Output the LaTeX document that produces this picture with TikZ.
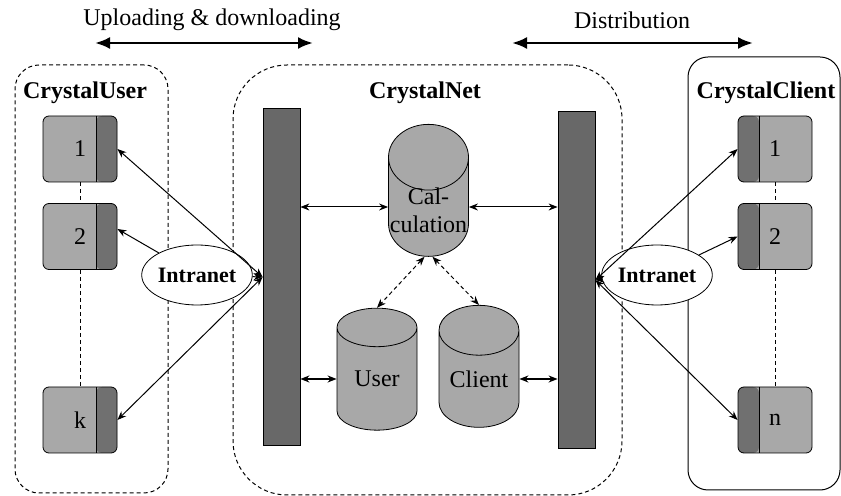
\documentclass[tikz,border=0pt]{standalone}
\usepackage{fontspec}
\setmainfont{Liberation Serif}
\usetikzlibrary{arrows.meta,positioning,shapes.geometric}
\definecolor{boxgray}{RGB}{168,168,168}
\definecolor{tabgray}{RGB}{112,112,112}
\definecolor{bargray}{RGB}{104,104,104}

\begin{document}
\begin{tikzpicture}[
    x=0.5pt, y=-0.5pt,
    txt/.style={font=\rmfamily\fontsize{12}{14}\selectfont},
    title/.style={font=\rmfamily\fontsize{12}{14}\selectfont\bfseries},
    group/.style={draw, dash pattern=on 2pt off 1.5pt, line width=0.5pt},
    userbox/.style={draw, rounded corners=3pt, fill=boxgray, minimum width=37pt,
                minimum height=33pt, inner sep=0pt, font=\rmfamily\fontsize{12}{14}\selectfont,
                path picture={\fill[tabgray] ([xshift=-10.5pt]path picture bounding box.north east)
                    rectangle (path picture bounding box.south east);
                  \draw[line width=0.4pt] ([xshift=-10.5pt]path picture bounding box.north east)
                    -- ([xshift=-10.5pt]path picture bounding box.south east);}},
    clientbox/.style={draw, rounded corners=3pt, fill=boxgray, minimum width=37pt,
                minimum height=33pt, inner sep=0pt, font=\rmfamily\fontsize{12}{14}\selectfont,
                path picture={\fill[tabgray] ([xshift=10.5pt]path picture bounding box.north west)
                    rectangle (path picture bounding box.south west);
                  \draw[line width=0.4pt] ([xshift=10.5pt]path picture bounding box.north west)
                    -- ([xshift=10.5pt]path picture bounding box.south west);}},
    bar/.style={draw, fill=bargray, minimum width=18.5pt, minimum height=168.5pt, inner sep=0pt},
    db/.style={cylinder, shape border rotate=90, aspect=0.85, draw, fill=boxgray,
                minimum width=40pt, minimum height=61pt, inner sep=0pt, align=center,
                font=\rmfamily\fontsize{12}{14}\selectfont},
    net/.style={ellipse, draw, fill=white, minimum width=44pt, minimum height=30pt,
                inner sep=0pt, font=\rmfamily\fontsize{11}{13}\selectfont\bfseries},
    bigarr/.style={{Latex[length=7.5pt,width=6pt]}-{Latex[length=7.5pt,width=6pt]}, line width=1.3pt},
    link/.style={line width=0.5pt},
    tip/.style={-{Stealth[length=4.5pt,width=3.5pt]}},
    tips/.style={{Stealth[length=4.5pt,width=3.5pt]}-{Stealth[length=4.5pt,width=3.5pt]}},
    dot/.style={dash pattern=on 2pt off 1.5pt, line width=0.5pt}
]
\useasboundingbox (0,0) rectangle (841,496);

% headings with their arrows
\node[txt] (updown) at (212,20) {Uploading \& downloading};
\node[txt] (distr) at (632,20) {Distribution};
\coordinate (ud1) at (95,43);
\coordinate (ud2) at (313,43);
\coordinate (ds1) at (512,43);
\coordinate (ds2) at (753,43);
\draw[bigarr] (ud1) -- (ud2);
\draw[bigarr] (ds1) -- (ds2);

% the three groups
\node[group, rounded corners=12pt, minimum width=76.5pt, minimum height=214pt] (usergrp) at (91.5,279) {};
\node[group, rounded corners=27pt, minimum width=194.5pt, minimum height=215pt] (netgrp) at (427.5,280) {};
\node[draw, line width=0.5pt, rounded corners=10pt, minimum width=76pt, minimum height=216.5pt] (clientgrp) at (764,273.5) {};
\node[title] (usertitle) at (85,93) {CrystalUser};
\node[title] (nettitle) at (425,93) {CrystalNet};
\node[title] (clienttitle) at (766,93) {CrystalClient};

% user side
\node[userbox] (u1) at (80,149) {1};
\node[userbox] (u2) at (80,236.5) {2};
\node[userbox] (uk) at (80,420) {k};
\draw[dot] (u1) -- (u2);
\draw[dot] (u2) -- (uk);

% client side
\node[clientbox] (c1) at (775,149) {1};
\node[clientbox] (c2) at (775,236.5) {2};
\node[clientbox] (cn) at (775,420) {n};
\draw[dot] (c1) -- (c2);
\draw[dot] (c2) -- (cn);

% CrystalNet
\node[bar] (lbar) at (281.5,277) {};
\node[bar] (rbar) at (576.5,280) {};
\node[db, minimum height=66pt] (calc) at (428.5,207)
    {\raisebox{-13pt}[0pt][0pt]{\begin{tabular}[b]{@{}c@{}}Cal-\\culation\end{tabular}}};
\node[db] (userdb) at (377,379) {User};
\node[db] (clientdb) at (479,379) {Client};

\node[net] (lnet) at (197,275) {Intranet};
\node[net] (rnet) at (657,275) {Intranet};

% links on the user side
\draw[link, tips] (lbar.west) -- (u1.east);
\draw[link, tips] (lbar.west) -- (uk.east);
\draw[link, tip] (lnet) -- ([yshift=3.75pt]u2.east);
\draw[link, tip] (lnet) -- (lbar.west);

% links on the client side
\draw[link, tips] (rbar.east) -- (c1.west);
\draw[link, tips] (rbar.east) -- (cn.west);
\draw[link, tip] (rnet) -- (c2.west);
\draw[link, tip] (rnet) -- (rbar.east);

% links inside CrystalNet
\draw[link, tips] (lbar.east |- calc.center) -- (calc);
\draw[link, tips] (calc) -- (rbar.west |- calc.center);
\draw[line width=0.9pt, tips] (lbar.east |- userdb.center) -- (userdb);
\draw[line width=0.9pt, tips] (clientdb) -- (rbar.west |- clientdb.center);
\draw[dot, tips] ([xshift=-2pt]calc.south) -- (userdb.north);
\draw[dot, tips] ([xshift=2pt]calc.south) -- (clientdb.north);

\end{tikzpicture}
\end{document}
